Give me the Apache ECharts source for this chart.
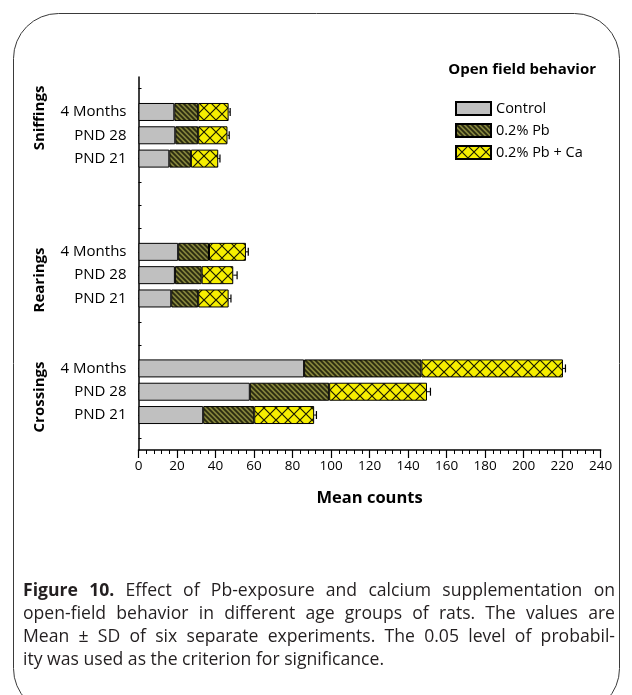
<!DOCTYPE html>
<html><head><meta charset="utf-8">
<script src="https://cdn.jsdelivr.net/npm/echarts@6/dist/echarts.min.js"></script>
<style>html,body{margin:0;padding:0;background:#fff}#c{width:632px;height:695px}</style>
</head><body><div id="c"></div>
<script>
// ---------- data ----------
const slotLabels = ['', '4 Months', 'PND 28', 'PND 21', '', '', '', '4 Months', 'PND 28', 'PND 21', '', '', '4 Months', 'PND 28', 'PND 21', ''];
const groupNames = ['Sniffings', 'Rearings', 'Crossings'];
const seriesNames = ['Control', '0.2% Pb', '0.2% Pb + Ca'];
const controlValues = [null, 18.6, 19.1, 16.0, null, null, null, 20.6, 18.9, 17.0, null, null, 86.0, 57.8, 33.6, null];
const pbValues      = [null, 12.4, 11.9, 11.2, null, null, null, 16.0, 13.9, 14.0, null, null, 60.9, 41.2, 26.5, null];
const pbCaValues    = [null, 15.8, 15.2, 14.2, null, null, null, 19.2, 16.4, 15.8, null, null, 73.5, 50.8, 31.1, null];
const sdValues      = [null, 0.8, 0.9, 0.9, null, null, null, 1.2, 2.0, 1.2, null, null, 1.3, 1.8, 1.2, null];
const xMin = 0, xMax = 240, xStep = 20;
const titleText = 'Open field behavior';
const xName = 'Mean counts';
const captionLines = [
  'Figure 10. Effect of Pb-exposure and calcium supplementation on',
  'open-field behavior in different age groups of rats. The values are',
  'Mean ± SD of six separate experiments. The 0.05 level of probabil-',
  'ity was used as the criterion for significance.'
];

// ---------- styles ----------
const FONT = '"Open Sans", "Noto Sans", sans-serif';
function pbPattern() {
  const s = 5, c = document.createElement('canvas'); c.width = s; c.height = s;
  const g = c.getContext('2d');
  g.fillStyle = '#85853c'; g.fillRect(0, 0, s, s);
  g.strokeStyle = '#2a2a10'; g.lineWidth = 1.8;
  g.beginPath();
  g.moveTo(-1, -1); g.lineTo(s + 1, s + 1);
  g.moveTo(-1, s - 1); g.lineTo(1, s + 1);
  g.moveTo(s - 1, -1); g.lineTo(s + 1, 1);
  g.stroke();
  return c;
}
function caPattern() {
  const s = 12, c = document.createElement('canvas'); c.width = s; c.height = s;
  const g = c.getContext('2d');
  g.fillStyle = '#f6ee00'; g.fillRect(0, 0, s, s);
  g.strokeStyle = '#1a1a00'; g.lineWidth = 1.2;
  g.beginPath();
  g.moveTo(0, 0); g.lineTo(s, s);
  g.moveTo(s, 0); g.lineTo(0, s);
  g.stroke();
  return c;
}
const fills = ['#c0c0c0', { image: pbPattern(), repeat: 'repeat' }, { image: caPattern(), repeat: 'repeat' }];
const valueArrays = [controlValues, pbValues, pbCaValues];

// error bars on the stacked totals
const errData = [];
for (let i = 0; i < slotLabels.length; i++) {
  if (pbCaValues[i] == null) continue;
  const total = controlValues[i] + pbValues[i] + pbCaValues[i];
  errData.push([total, total + sdValues[i], i]);
}

// caption, justified word by word
const measureCtx = document.createElement('canvas').getContext('2d');
const capSize = 17.6, capLeft = 23, capRight = 615, capTop = 591, capLH = 23;
const captionEls = [];
captionLines.forEach((line, li) => {
  const words = line.split(' ');
  const info = words.map((w, wi) => {
    const bold = li === 0 && wi < 2;
    measureCtx.font = (bold ? 'bold ' : '') + capSize + 'px ' + FONT;
    return { w, bold, width: measureCtx.measureText(w).width };
  });
  measureCtx.font = capSize + 'px ' + FONT;
  const spaceW = measureCtx.measureText(' ').width;
  const total = info.reduce((a, b) => a + b.width, 0);
  const justify = li < captionLines.length - 1;
  const gap = justify ? (capRight - capLeft - total) / (words.length - 1) : spaceW;
  let x = capLeft;
  info.forEach(it => {
    captionEls.push({
      type: 'text', x: x, y: capTop + li * capLH,
      style: { text: it.w, font: (it.bold ? 'bold ' : '') + capSize + 'px ' + FONT, fill: '#231f20', textVerticalAlign: 'middle' }
    });
    x += it.width + gap;
  });
});

const groupY = [118, 280, 397];
const groupEls = groupNames.map((g, i) => ({
  type: 'text', x: 40, y: groupY[i], rotation: Math.PI / 2,
  style: { text: g, font: 'bold 15px ' + FONT, fill: '#000', textAlign: 'center', textVerticalAlign: 'middle' }
}));

const chart = echarts.init(document.getElementById('c'), null, { renderer: 'canvas' });
chart.setOption({
  backgroundColor: '#fff',
  animation: false,
  title: {
    text: titleText, right: 31, top: 57,
    textStyle: { fontFamily: FONT, fontSize: 15, fontWeight: 'bold', color: '#000' }
  },
  legend: {
    data: seriesNames, orient: 'vertical', left: 455, top: 101, padding: 0,
    itemWidth: 35, itemHeight: 13, itemGap: 7, icon: 'rect',
    textStyle: { fontFamily: FONT, fontSize: 14.5, color: '#000', lineHeight: 13 }
  },
  grid: { left: 138.5, right: 31.3, top: 77, bottom: 245, containLabel: false },
  xAxis: {
    type: 'value', min: xMin, max: xMax, interval: xStep,
    name: xName, nameLocation: 'middle', nameGap: 40,
    nameTextStyle: { fontFamily: FONT, fontSize: 16.5, fontWeight: 'bold', color: '#000' },
    axisLine: { show: true, lineStyle: { color: '#000', width: 1.5 } },
    axisTick: { show: true, length: 8, lineStyle: { color: '#000', width: 1.2 } },
    minorTick: { show: true, splitNumber: 5, length: 4, lineStyle: { color: '#000', width: 1 } },
    splitLine: { show: false },
    axisLabel: { fontFamily: FONT, fontSize: 13.5, color: '#000', margin: 9 }
  },
  yAxis: {
    type: 'category', data: slotLabels, inverse: true,
    axisLine: { show: true, lineStyle: { color: '#000', width: 1.5 } },
    axisTick: { show: true, alignWithLabel: true, inside: true, length: 3, interval: 0, lineStyle: { color: '#000' } },
    axisLabel: { fontFamily: FONT, fontSize: 15, color: '#000', margin: 12, interval: 0 },
    splitLine: { show: false }
  },
  series: seriesNames.map((n, k) => ({
    name: n, type: 'bar', stack: 'all', data: valueArrays[k], barWidth: 18,
    itemStyle: { color: fills[k], borderColor: '#000', borderWidth: 1 }
  })).concat([{
    type: 'custom', name: 'sd', data: errData, encode: { x: [0, 1], y: 2 }, z: 10,
    renderItem: function (params, api) {
      const s = api.coord([api.value(0), api.value(2)]);
      const e = api.coord([api.value(1), api.value(2)]);
      return {
        type: 'group', children: [
          { type: 'line', shape: { x1: s[0], y1: s[1], x2: e[0], y2: e[1] }, style: { stroke: '#000', lineWidth: 1 } },
          { type: 'line', shape: { x1: e[0], y1: e[1] - 4, x2: e[0], y2: e[1] + 4 }, style: { stroke: '#000', lineWidth: 1.2 } }
        ]
      };
    }
  }]),
  graphic: [
    { type: 'rect', shape: { x: 13.5, y: 13.5, width: 606, height: 700, r: 45 }, style: { fill: 'none', stroke: '#3a3a3a', lineWidth: 1 }, silent: true }
  ].concat(groupEls, captionEls)
});
</script>
</body></html>
